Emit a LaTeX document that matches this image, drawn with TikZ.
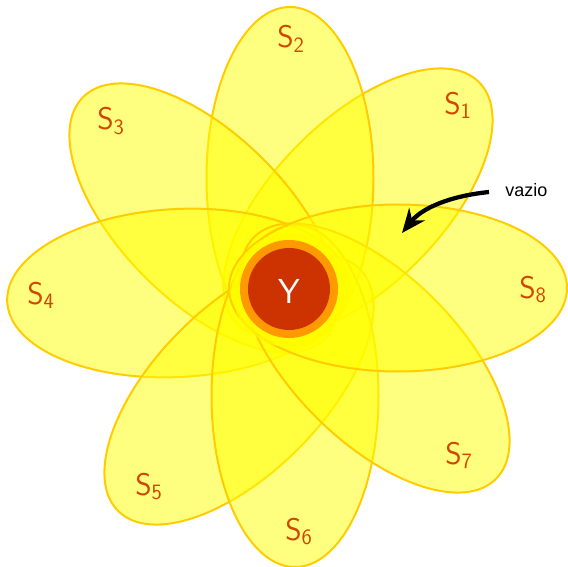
\documentclass[tikz,border=0pt]{standalone}
\usepackage{fontspec}
\newfontfamily\arialfont{Liberation Sans}
\usetikzlibrary{arrows.meta}
\definecolor{petal}{RGB}{255,255,0}
\definecolor{petalline}{RGB}{255,204,0}
\definecolor{labelc}{RGB}{208,72,0}
\definecolor{ringc}{RGB}{255,153,0}
\definecolor{corec}{RGB}{204,51,0}
\definecolor{glowc}{RGB}{255,250,0}
\begin{document}
\begin{tikzpicture}[x=0.75pt,y=0.75pt,
  petalsty/.style={fill=petal,fill opacity=0.5,draw=petalline,draw opacity=1,line width=1.5pt},
  lab/.style={text=labelc,font=\fontsize{23.5}{25}\selectfont,inner sep=0pt,anchor=base west}]
\useasboundingbox (0,0) rectangle (568,-567);
% petals
\path[petalsty,rotate around={45:(358,-203)}] (358,-203) ellipse [x radius=171,y radius=83.5];
\path[petalsty] (290,-178) ellipse [x radius=83.5,y radius=171];
\path[petalsty,rotate around={-45:(204,-218)}] (204,-218) ellipse [x radius=171,y radius=83.5];
\path[petalsty,rotate around={3:(178,-293)}] (178,-293) ellipse [x radius=171,y radius=84];
\path[petalsty,rotate around={45:(239,-390)}] (239,-390) ellipse [x radius=171,y radius=83.5];
\path[petalsty] (295,-396) ellipse [x radius=83.5,y radius=171];
\path[petalsty,rotate around={-45:(375,-358)}] (375,-358) ellipse [x radius=171,y radius=83.5];
\path[petalsty] (398,-288) ellipse [x radius=169,y radius=83.5];
% core
\fill[glowc,opacity=0.7] (289,-290) circle [radius=57];
\fill[ringc] (289,-289) circle [radius=49];
\fill[corec] (289,-289) circle [radius=41];
\node[text=white,font=\sffamily\fontsize{26}{28}\selectfont,inner sep=0pt] (Y) at (289,-291) {Y};
% labels
\node[lab] (s1) at (444,-114) {$\mathsf{S_1}$};
\node[lab] (s2) at (277,-48) {$\mathsf{S_2}$};
\node[lab] (s3) at (97,-130) {$\mathsf{S_3}$};
\node[lab] (s4) at (27,-304) {$\mathsf{S_4}$};
\node[lab] (s5) at (135,-495) {$\mathsf{S_5}$};
\node[lab] (s6) at (285,-540) {$\mathsf{S_6}$};
\node[lab] (s7) at (445,-464) {$\mathsf{S_7}$};
\node[lab] (s8) at (519,-298) {$\mathsf{S_8}$};
% vazio
\node[font=\arialfont\fontsize{13.5}{15}\selectfont,anchor=base west,inner sep=0pt] (vazio) at (505,-196) {vazio};
\coordinate (arrS) at (489,-192);
\coordinate (arrE) at (402,-233);
\draw[line width=3.2pt,-{Stealth[length=18pt,width=15pt]}] (arrS) .. controls (450,-196) and (422,-208) .. (arrE);
\end{tikzpicture}
\end{document}
